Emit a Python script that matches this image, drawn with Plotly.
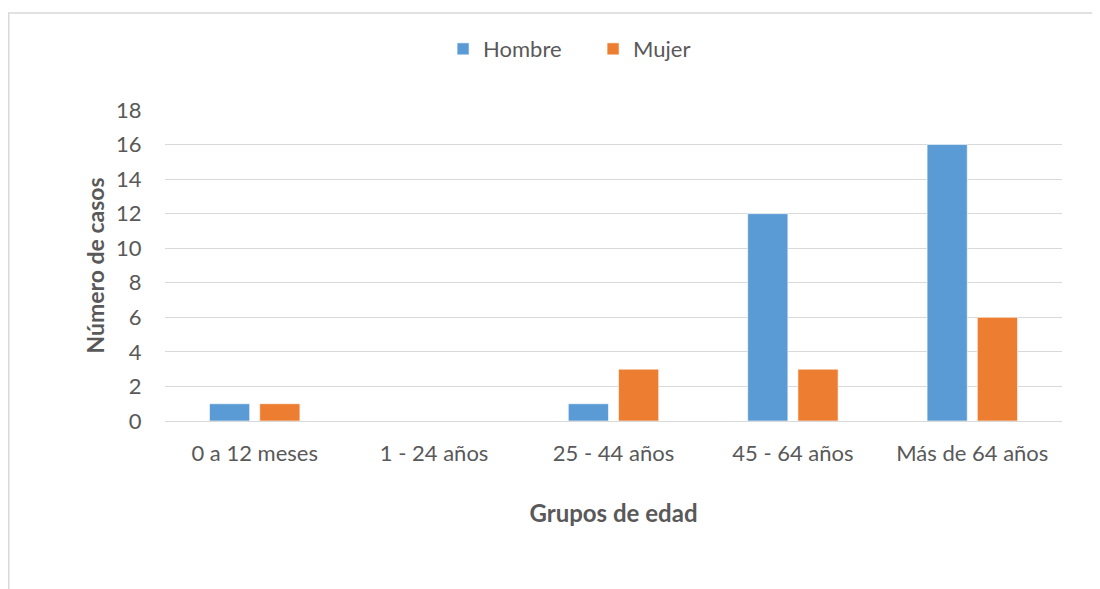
import plotly.graph_objects as go

# Datos
grupos = ["0 a 12 meses", "1 - 24 años", "25 - 44 años", "45 - 64 años", "Más de 64 años"]
hombre = [1, 0, 1, 12, 16]
mujer = [1, 0, 3, 3, 6]
y_ticks = [0, 2, 4, 6, 8, 10, 12, 14, 16, 18]

azul = "#5B9BD5"
naranja = "#ED7D31"
gris_txt = "#595959"
gris_lin = "#D9D9D9"
fuente = "Lato"

fig = go.Figure()
fig.add_trace(go.Bar(
    x=grupos, y=hombre, name="Hombre",
    marker=dict(color=azul, line=dict(width=0.6, color="white")),
))
fig.add_trace(go.Bar(
    x=grupos, y=mujer, name="Mujer",
    marker=dict(color=naranja, line=dict(width=0.6, color="white")),
))

# marco del gráfico (solo se ven el borde izquierdo y el superior)
fig.add_shape(
    type="rect", xref="paper", yref="paper",
    x0=-0.1742, x1=1.2, y0=-1.0, y1=1.312,
    line=dict(color=gris_lin, width=1.5), layer="below",
)

# la página tiene 8 px de margen, así que la figura es algo menor que la ventana
fig.update_layout(
    width=1092, height=581,
    margin=dict(l=157, r=38, t=102, b=168),
    paper_bgcolor="white", plot_bgcolor="white",
    barmode="group", bargap=0.44, bargroupgap=0.2,
    font=dict(family=fuente, size=22, color=gris_txt),
    showlegend=True,
    legend=dict(
        orientation="h", x=0.31, xanchor="left", y=1.196, yanchor="middle",
        font=dict(size=22, color=gris_txt), entrywidth=105, entrywidthmode="pixels",
        traceorder="normal",
    ),
    xaxis=dict(
        title=dict(text="<b>Grupos de edad</b>", standoff=39,
                   font=dict(size=24, color=gris_txt)),
        showgrid=False, showline=False, zeroline=False,
        ticks="outside", ticklen=13, tickcolor="rgba(0,0,0,0)",
        tickfont=dict(size=22, color=gris_txt),
    ),
    yaxis=dict(
        title=dict(text="<b>Número de casos</b>", standoff=5,
                   font=dict(size=23, color=gris_txt)),
        range=[0, 18], tickvals=y_ticks,
        showgrid=True, gridcolor=gris_lin, gridwidth=1,
        zeroline=True, zerolinecolor=gris_lin, zerolinewidth=1,
        showline=False,
        ticks="outside", ticklen=18, tickcolor="rgba(0,0,0,0)",
        tickfont=dict(size=22, color=gris_txt),
    ),
)

fig.write_html("out.html")
